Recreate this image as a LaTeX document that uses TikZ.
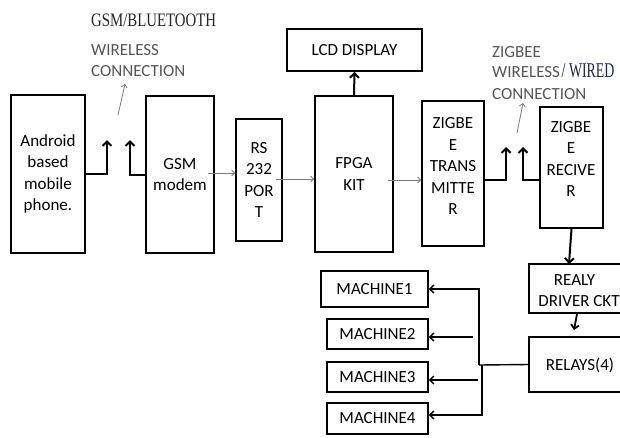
\documentclass[tikz,border=0pt]{standalone}
\usepackage{fontspec}
\setmainfont{Carlito}
\newfontfamily\tnr{Liberation Serif}
\usetikzlibrary{arrows.meta,calc}
\definecolor{txtgray}{HTML}{555555}
\definecolor{argray}{HTML}{7A7A7A}
\definecolor{navy}{HTML}{1C2550}
\begin{document}
\begin{tikzpicture}[x=1pt,y=-1pt,
  box/.style={draw=black,line width=1.8pt,inner sep=0pt,align=center,font=\fontsize{17}{21.5}\selectfont},
  txt/.style={inner sep=0pt,align=center,font=\fontsize{17}{21.5}\selectfont},
  gtxt/.style={inner sep=0pt,anchor=base west,text=txtgray,font=\fontsize{17}{21}\selectfont},
  thk/.style={line width=2pt,-{Straight Barb[length=4.5pt,width=9pt]}},
  med/.style={line width=1.4pt,-{Straight Barb[length=4pt,width=8pt]}},
  thn/.style={draw=argray,line width=0.8pt,-{Straight Barb[length=3pt,width=6pt]}}]
\useasboundingbox (0,0) rectangle (620,437);
\fill[white] (0,0) rectangle (620,437);

% boxes
\node[box,minimum width=74pt,minimum height=158pt] (android) at (48,174) {Android\\based\\mobile\\phone.};
\node[box,minimum width=68pt,minimum height=157pt] (gsm) at (180,174.5) {GSM\\modem};
\node[box,minimum width=46pt,minimum height=122pt] (rs) at (259,180) {RS\\232\\POR\\T};
\node[box,minimum width=78pt,minimum height=156pt] (fpga) at (354,174) {FPGA\\KIT};
\node[box,minimum width=135pt,minimum height=42pt] (lcd) at (354.5,50) {LCD DISPLAY};
\node[box,minimum width=62pt,minimum height=145pt] (zt) at (453,173.5) {};
\node[txt] (zttxt) at (453,166) {ZIGBE\\E\\TRANS\\MITTE\\R};
\node[box,minimum width=63pt,minimum height=121pt] (zr) at (571.5,167.5) {};
\node[txt] (zrtxt) at (571,159) {ZIGBE\\E\\RECIVE\\R};
\node[box,minimum width=101pt,minimum height=49pt] (rd) at (579.5,288.5) {};
\node[txt] (rdt1) at (574.5,280) {REALY};
\node[txt] (rdt2) at (579,301) {DRIVER CKT};
\node[box,minimum width=101pt,minimum height=55pt] (rl) at (579.5,364.5) {};
\node[txt] (rlt) at (580,365) {RELAYS(4)};
\node[box,minimum width=107pt,minimum height=36pt] (m1) at (374.5,289) {MACHINE1};
\node[box,minimum width=101pt,minimum height=30pt] (m2) at (377.5,334) {MACHINE2};
\node[box,minimum width=101pt,minimum height=30pt] (m3) at (377.5,377) {MACHINE3};
\node[box,minimum width=101pt,minimum height=31pt] (m4) at (377.5,418.5) {MACHINE4};

% labels
\node[inner sep=0pt,anchor=base west,text=black!85] (gsmbt) at (91,26.5)
  {\scalebox{0.78}[1]{\tnr\fontsize{19}{19}\selectfont GSM/BLUETOOTH}};
\node[gtxt] (wl1) at (91,55.5) {WIRELESS};
\node[gtxt] (wl2) at (91,76.5) {CONNECTION};
\node[gtxt] (zl1) at (492,57.5) {ZIGBEE};
\node[gtxt] (zl2) at (492,77.5) {WIRELESS};
\node[inner sep=0pt,anchor=base west,text=navy] (zl2b) at (561.5,77.5)
  {\scalebox{0.66}[1]{\tnr\fontsize{21}{21}\selectfont / WIRED}};
\node[gtxt] (zl3) at (492,99.5) {CONNECTION};

% connectors
\coordinate (up1) at (107,140);
\coordinate (up2) at (130,140);
\draw[thk] (android.east) -| (up1);
\draw[thk] (gsm.west) -| (up2);
\coordinate (w1a) at (118,115);
\coordinate (w1b) at (125,84);
\draw[thn] (w1a) -- (w1b);
\coordinate (g1) at (208,173);
\draw[thn] (g1) -- (g1 -| rs.west);
\coordinate (r1) at (276,179);
\draw[thn] (r1) -- (r1 -| fpga.west);
\draw[thk] (fpga.north) -- (lcd.south);
\coordinate (f1) at (388,180);
\draw[thn] (f1) -- (f1 -| zt.west);
\coordinate (up3) at (506,147);
\coordinate (up4) at (523,147);
\draw[thk] (zt.east |- f1) -| (up3);
\draw[thk] (zr.west |- f1) -| (up4);
\coordinate (w2a) at (517,133);
\coordinate (w2b) at (523,103);
\draw[thn] (w2a) -- (w2b);
\coordinate (rd1) at (569,264);
\draw[thk] (zr.south) -- (rd1);
\coordinate (rd2) at (577,314);
\coordinate (rl1) at (574,330);
\draw[med,line width=1.8pt] (rd2) -- (rl1);
\coordinate (j1) at (479,365);
\coordinate (j2) at (482,365);
\draw[line width=1.4pt] (rl.west) -- (j1);
\draw[med] (j1) |- (m1.east);
\draw[med] (j2) |- (m4.east |- 0,415);
\coordinate (b2) at (473,337);
\coordinate (b3) at (478,380);
\draw[med] (b2) -- (m2.east |- b2);
\draw[med] (b3) -- (m3.east |- b3);
\end{tikzpicture}
\end{document}
